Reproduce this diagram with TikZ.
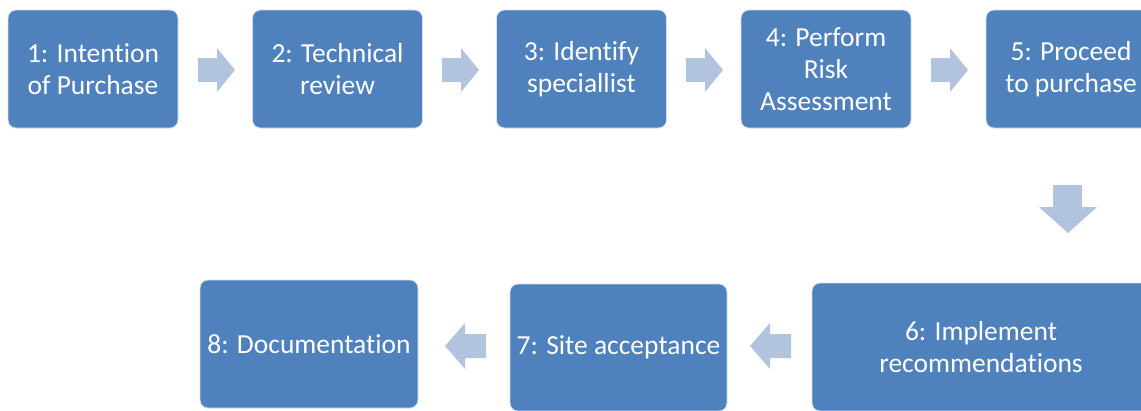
\documentclass[tikz,border=0pt]{standalone}
\usepackage{fontspec}
\setmainfont[Ligatures=NoCommon]{Carlito}
\definecolor{boxblue}{HTML}{4F81BD}
\definecolor{arrowblue}{HTML}{B2C3DE}
\begin{document}
\begin{tikzpicture}[x=1pt, y=-1pt,
  stepbox/.style={rectangle, rounded corners=8pt, fill=boxblue, draw=white!75!boxblue, line width=0.8pt,
    text=white, align=center, inner sep=0pt, font=\fontsize{27.5}{32}\selectfont},
  arrowfill/.style={fill=arrowblue}]
\useasboundingbox (0,0) rectangle (1141,410);
\clip (0,0) rectangle (1141,410);
% top row
\node[stepbox, minimum width=170pt, minimum height=118pt] (b1) at (93,69){1: Intention\\of Purchase};
\node[stepbox, minimum width=170pt, minimum height=118pt] (b2) at (337.5,69){2: Technical\\review};
\node[stepbox, minimum width=170pt, minimum height=118pt] (b3) at (581.5,69){3: Identify\\speciallist};
\node[stepbox, minimum width=170pt, minimum height=118pt] (b4) at (826,69){4: Perform\\Risk\\Assessment};
\node[stepbox, minimum width=170pt, minimum height=118pt] (b5) at (1071,69){5: Proceed\\to purchase};
% bottom row
\node[stepbox, minimum width=338pt, minimum height=128pt] (b6) at (981,347){6: Implement\\recommendations};
\node[stepbox, minimum width=217pt, minimum height=127pt] (b7) at (618.5,347.5){7: Site acceptance};
\node[stepbox, minimum width=218pt, minimum height=128pt] (b8) at (309,344){8: Documentation};
% arrows
\foreach \x in {198,442,686,931}
  \fill[arrowfill] (\x,58) -- ++(19,0) -- ++(0,-10) -- ++(18,22) -- ++(-18,22) -- ++(0,-10) -- ++(-19,0) -- cycle;
\fill[arrowfill] (1053,185) -- (1082,185) -- (1082,207) -- (1097,207) -- (1068,233) -- (1039,207) -- (1053,207) -- cycle;
\foreach \x in {445,750}
  \fill[arrowfill] (\x,346) -- ++(20,-23) -- ++(0,11) -- ++(21,0) -- ++(0,24) -- ++(-21,0) -- ++(0,11) -- cycle;
\end{tikzpicture}
\end{document}
